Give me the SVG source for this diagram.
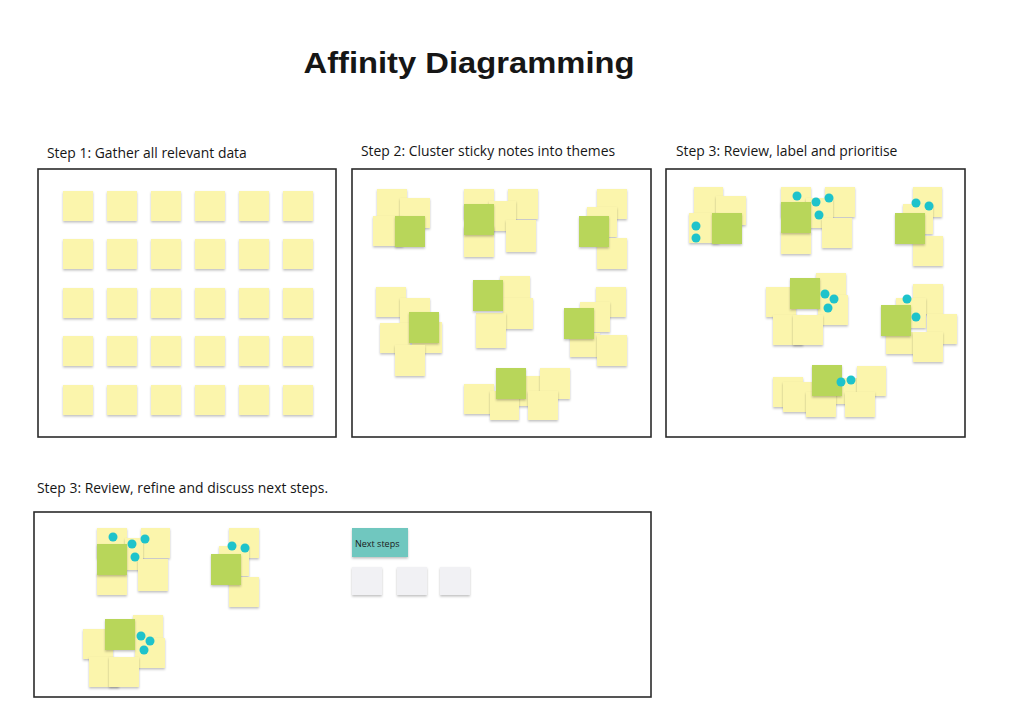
<svg xmlns="http://www.w3.org/2000/svg" width="1024" height="724" viewBox="0 0 1024 724">
<style>
.bg{fill:#ffffff}
.frame{fill:none;stroke:#2b2b2b;stroke-width:1.6}
.y{fill:#fbf5ac;filter:url(#sh)}
.g{fill:#b8d65a;filter:url(#sh)}
.w{fill:#f1f1f4;filter:url(#sh)}
.t{fill:#6fc7bf;filter:url(#sh)}
.d{fill:#1ec3cb}
.title{font-family:"Liberation Sans","Open Sans",sans-serif;font-weight:bold;font-size:30px;fill:#161616}
.lbl{font-family:"Open Sans","Liberation Sans",sans-serif;font-size:13.9px;fill:#161616}
.ns{font-family:"Open Sans","Liberation Sans",sans-serif;font-size:9px;fill:#1a1a1a}
</style>
<defs>
<filter id="sh" x="-20%" y="-20%" width="140%" height="150%">
<feDropShadow dx="0" dy="1.5" stdDeviation="0.9" flood-color="#000" flood-opacity="0.25"/>
</filter>
</defs>
<rect class="bg" x="0" y="0" width="1024" height="724"/>
<text class="title" x="469" y="73" text-anchor="middle" textLength="331" lengthAdjust="spacingAndGlyphs">Affinity Diagramming</text>

<g id="step1">
<text class="lbl" x="47" y="158">Step 1: Gather all relevant data</text>
<rect class="frame" x="38" y="169" width="298" height="268"/>
<g id="step1-notes">
<rect class="y" x="63" y="191" width="30" height="30"/><rect class="y" x="107" y="191" width="30" height="30"/><rect class="y" x="151" y="191" width="30" height="30"/><rect class="y" x="195" y="191" width="30" height="30"/><rect class="y" x="239" y="191" width="30" height="30"/><rect class="y" x="283" y="191" width="30" height="30"/>
<rect class="y" x="63" y="239" width="30" height="30"/><rect class="y" x="107" y="239" width="30" height="30"/><rect class="y" x="151" y="239" width="30" height="30"/><rect class="y" x="195" y="239" width="30" height="30"/><rect class="y" x="239" y="239" width="30" height="30"/><rect class="y" x="283" y="239" width="30" height="30"/>
<rect class="y" x="63" y="288" width="30" height="30"/><rect class="y" x="107" y="288" width="30" height="30"/><rect class="y" x="151" y="288" width="30" height="30"/><rect class="y" x="195" y="288" width="30" height="30"/><rect class="y" x="239" y="288" width="30" height="30"/><rect class="y" x="283" y="288" width="30" height="30"/>
<rect class="y" x="63" y="336" width="30" height="30"/><rect class="y" x="107" y="336" width="30" height="30"/><rect class="y" x="151" y="336" width="30" height="30"/><rect class="y" x="195" y="336" width="30" height="30"/><rect class="y" x="239" y="336" width="30" height="30"/><rect class="y" x="283" y="336" width="30" height="30"/>
<rect class="y" x="63" y="385" width="30" height="30"/><rect class="y" x="107" y="385" width="30" height="30"/><rect class="y" x="151" y="385" width="30" height="30"/><rect class="y" x="195" y="385" width="30" height="30"/><rect class="y" x="239" y="385" width="30" height="30"/><rect class="y" x="283" y="385" width="30" height="30"/>
</g>
</g>

<g id="step2">
<text class="lbl" x="361" y="156">Step 2: Cluster sticky notes into themes</text>
<rect class="frame" x="352" y="169" width="299" height="268"/>
<g id="s2-c1">
<rect class="y" x="377" y="189" width="30" height="30"/><rect class="y" x="400" y="198" width="30" height="30"/><rect class="y" x="373" y="216" width="30" height="30"/><rect class="g" x="395" y="216" width="30" height="31"/>
</g>
<g id="s2-c2">
<rect class="y" x="464" y="189" width="30" height="30"/><rect class="y" x="508" y="189" width="30" height="30"/><rect class="y" x="489" y="201" width="27" height="30"/><rect class="y" x="464" y="226" width="30" height="31"/><rect class="y" x="506" y="220" width="30" height="32"/><rect class="g" x="464" y="204" width="30" height="31"/>
</g>
<g id="s2-c3">
<rect class="y" x="597" y="189" width="30" height="30"/><rect class="y" x="587" y="207" width="30" height="30"/><rect class="y" x="597" y="238" width="30" height="31"/><rect class="g" x="579" y="216" width="30" height="31"/>
</g>
<g id="s2-c4">
<rect class="y" x="376" y="287" width="30" height="30"/><rect class="y" x="400" y="298" width="30" height="30"/><rect class="y" x="380" y="323" width="30" height="30"/><rect class="y" x="412" y="322" width="30" height="31"/><rect class="g" x="409" y="312" width="30" height="31"/><rect class="y" x="395" y="345" width="30" height="31"/>
</g>
<g id="s2-c5">
<rect class="y" x="500" y="276" width="30" height="30"/><rect class="y" x="503" y="298" width="30" height="31"/><rect class="y" x="476" y="313" width="30" height="35"/><rect class="g" x="473" y="280" width="30" height="31"/>
</g>
<g id="s2-c6">
<rect class="y" x="596" y="287" width="30" height="30"/><rect class="y" x="580" y="302" width="30" height="30"/><rect class="y" x="570" y="333" width="30" height="24"/><rect class="y" x="597" y="335" width="30" height="31"/><rect class="g" x="564" y="308" width="30" height="31"/>
</g>
<g id="s2-c7">
<rect class="y" x="464" y="384" width="30" height="30"/><rect class="y" x="518" y="376" width="24" height="30"/><rect class="y" x="540" y="368" width="30" height="31"/><rect class="y" x="490" y="391" width="29" height="29"/><rect class="y" x="528" y="391" width="30" height="29"/><rect class="g" x="496" y="368" width="30" height="31"/>
</g>
</g>

<g id="step3">
<text class="lbl" x="676" y="156">Step 3: Review, label and prioritise</text>
<rect class="frame" x="666" y="169" width="299" height="268"/>
<g id="s3-c1">
<rect class="y" x="694" y="187" width="29" height="30"/><rect class="y" x="716" y="196" width="30" height="29"/><rect class="y" x="689" y="213" width="30" height="30"/><rect class="g" x="712" y="213" width="30" height="31"/>
<circle class="d" cx="696" cy="226" r="4.5"/><circle class="d" cx="696" cy="238" r="4.5"/>
</g>
<g id="s3-c2">
<rect class="y" x="781" y="187" width="30" height="30"/><rect class="y" x="825" y="187" width="30" height="30"/><rect class="y" x="806" y="198" width="27" height="30"/><rect class="y" x="781" y="231" width="30" height="23"/><rect class="y" x="822" y="218" width="30" height="30"/><rect class="g" x="781" y="202" width="30" height="31"/>
<circle class="d" cx="797" cy="196" r="4.5"/><circle class="d" cx="816" cy="202" r="4.5"/><circle class="d" cx="829" cy="198" r="4.5"/><circle class="d" cx="819" cy="215" r="4.5"/>
</g>
<g id="s3-c3">
<rect class="y" x="913" y="187" width="29" height="30"/><rect class="y" x="903" y="204" width="30" height="30"/><rect class="y" x="913" y="236" width="30" height="30"/><rect class="g" x="895" y="213" width="30" height="31"/>
<circle class="d" cx="916" cy="203" r="4.5"/><circle class="d" cx="929" cy="206" r="4.5"/>
</g>
<g id="s3-c4">
<rect class="y" x="816" y="273" width="30" height="29"/><rect class="y" x="766" y="287" width="30" height="30"/><rect class="y" x="818" y="295" width="30" height="30"/><rect class="y" x="773" y="315" width="30" height="30"/><rect class="y" x="793" y="315" width="30" height="30"/><rect class="g" x="790" y="278" width="30" height="31"/>
<circle class="d" cx="825" cy="294" r="4.5"/><circle class="d" cx="834" cy="299" r="4.5"/><circle class="d" cx="828" cy="308" r="4.5"/>
</g>
<g id="s3-c5">
<rect class="y" x="913" y="284" width="30" height="30"/><rect class="y" x="896" y="298" width="30" height="30"/><rect class="y" x="927" y="314" width="30" height="30"/><rect class="y" x="886" y="332" width="30" height="22"/><rect class="y" x="913" y="332" width="30" height="30"/><rect class="g" x="881" y="305" width="30" height="31"/>
<circle class="d" cx="907" cy="299" r="4.5"/><circle class="d" cx="916" cy="317" r="4.5"/>
</g>
<g id="s3-c6">
<rect class="y" x="773" y="377" width="30" height="30"/><rect class="y" x="783" y="382" width="30" height="30"/><rect class="y" x="830" y="378" width="27" height="26"/><rect class="y" x="857" y="366" width="29" height="30"/><rect class="y" x="806" y="392" width="30" height="25"/><rect class="y" x="845" y="392" width="30" height="25"/><rect class="g" x="812" y="365" width="30" height="31"/>
<circle class="d" cx="841" cy="382" r="4.5"/><circle class="d" cx="851" cy="380" r="4.5"/>
</g>
</g>

<g id="step4">
<text class="lbl" x="37" y="493">Step 3: Review, refine and discuss next steps.</text>
<rect class="frame" x="34" y="512" width="617" height="185"/>
<g id="s4-c1">
<rect class="y" x="97" y="528" width="30" height="30"/><rect class="y" x="141" y="528" width="29" height="30"/><rect class="y" x="125" y="538" width="18" height="32"/><rect class="y" x="97" y="573" width="30" height="22"/><rect class="y" x="138" y="559" width="30" height="32"/><rect class="g" x="97" y="544" width="30" height="31"/>
<circle class="d" cx="113" cy="537" r="4.5"/><circle class="d" cx="132" cy="544" r="4.5"/><circle class="d" cx="145" cy="539" r="4.5"/><circle class="d" cx="135" cy="557" r="4.5"/>
</g>
<g id="s4-c2">
<rect class="y" x="229" y="528" width="30" height="30"/><rect class="y" x="219" y="546" width="30" height="30"/><rect class="y" x="229" y="577" width="30" height="30"/><rect class="g" x="211" y="554" width="30" height="31"/>
<circle class="d" cx="232" cy="546" r="4.5"/><circle class="d" cx="245" cy="548" r="4.5"/>
</g>
<g id="s4-c3">
<rect class="y" x="133" y="615" width="30" height="30"/><rect class="y" x="83" y="629" width="30" height="30"/><rect class="y" x="135" y="638" width="30" height="30"/><rect class="y" x="89" y="657" width="30" height="30"/><rect class="y" x="109" y="657" width="30" height="30"/><rect class="g" x="105" y="619" width="30" height="31"/>
<circle class="d" cx="141" cy="636" r="4.5"/><circle class="d" cx="150" cy="641" r="4.5"/><circle class="d" cx="144" cy="650" r="4.5"/>
</g>
<g id="next-steps">
<rect class="t" x="352" y="528" width="56" height="29"/>
<text class="ns" x="355" y="547">Next steps</text>
<rect class="w" x="352" y="567" width="30" height="28"/><rect class="w" x="397" y="567" width="30" height="28"/><rect class="w" x="440" y="567" width="30" height="28"/>
</g>
</g>
<g id="connectors"/>
</svg>
